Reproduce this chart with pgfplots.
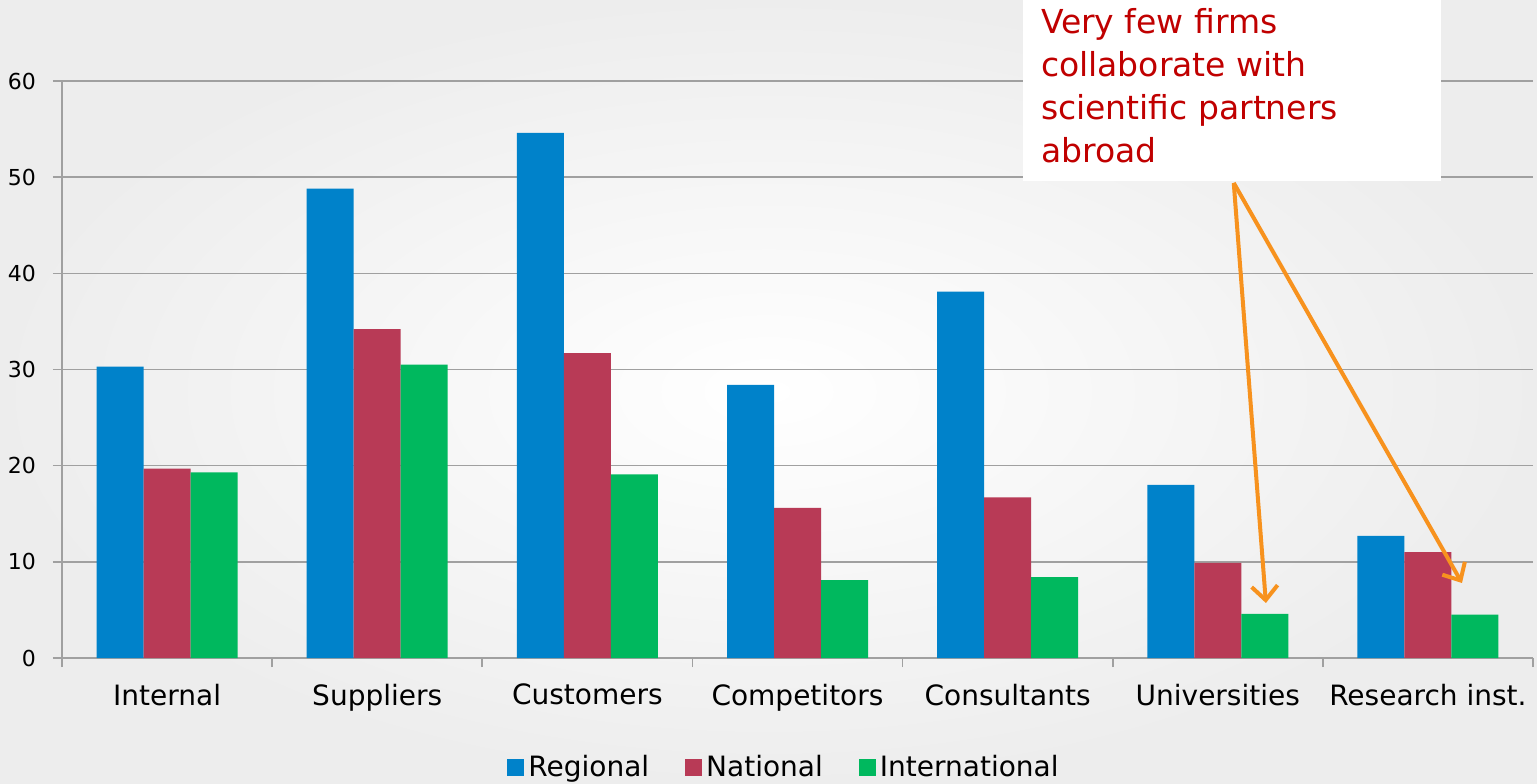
\documentclass[border=0pt]{standalone}
\usepackage{pgfplots}
\pgfplotsset{compat=1.18}
\usepackage{fontspec}
\setmainfont{DejaVu Sans}
\usetikzlibrary{arrows.meta}
\definecolor{cReg}{HTML}{0082CA}
\definecolor{cNat}{HTML}{B83A56}
\definecolor{cInt}{HTML}{00B85E}
\definecolor{cArr}{HTML}{F7921E}
\definecolor{cTxt}{HTML}{C00000}
\definecolor{cGrid}{HTML}{A0A0A0}
\begin{document}
\begin{tikzpicture}
\path[use as bounding box] (0,0) rectangle (768.5pt,391.5pt);
\shade[inner color=white, outer color=black!7] (0,0) rectangle (768.5pt,391.5pt);
\begin{axis}[
  at={(31pt,62.5pt)}, anchor=south west,
  scale only axis, width=735.5pt, height=288.5pt,
  xmin=-0.5, xmax=6.5, ymin=0, ymax=60,
  clip=false,
  axis lines*=left,
  axis line style={cGrid, line width=0.8pt},
  ybar, bar width=23.5pt,
  xtick={0,...,6},
  xticklabels={Internal,Suppliers,Customers,Competitors,Consultants,Universities,Research inst.},
  major x tick style={draw=none},
  minor xtick={-0.5,0.5,...,6.5},
  minor x tick style={cGrid, line width=0.8pt},
  minor tick length=4.5pt,
  xtick align=outside,
  ytick={0,10,...,60},
  ytick align=outside,
  major y tick style={cGrid, line width=0.8pt},
  major tick length=4.5pt,
  ymajorgrids, grid style={cGrid, line width=0.7pt},
  /pgf/number format/assume math mode=true,
  yticklabel style={font=\fontsize{11pt}{13pt}\selectfont, xshift=-5pt},
  xticklabel style={font=\fontsize{14pt}{16pt}\selectfont, yshift=-5pt},
  legend columns=3,
  legend style={at={(0.4915,-0.19)}, anchor=center, draw=none, fill=none,
    font=\fontsize{14pt}{16pt}\selectfont,
    /tikz/every even column/.append style={column sep=16pt}},
  legend image code/.code={\fill[#1] (0pt,-4pt) rectangle (8.5pt,4.5pt);},
]
\addplot[fill=cReg, draw=none, bar shift=-23.5pt] coordinates {(0,30.3) (1,48.8) (2,54.6) (3,28.4) (4,38.1) (5,18.0) (6,12.7)};
\addplot[fill=cNat, draw=none, bar shift=0pt] coordinates {(0,19.7) (1,34.2) (2,31.7) (3,15.6) (4,16.7) (5,9.9) (6,11.0)};
\addplot[fill=cInt, draw=none, bar shift=23.5pt] coordinates {(0,19.3) (1,30.5) (2,19.1) (3,8.1) (4,8.4) (5,4.6) (6,4.5)};
\legend{Regional,National,International}
\fill[white] (axis cs:4.071,68.42) rectangle (axis cs:6.062,49.6);
\node[anchor=north west, inner sep=0pt, align=left, text=cTxt,
  font=\fontsize{16.5pt}{21.5pt}\selectfont] at (axis cs:4.157,67.6)
  {Very few firms\\collaborate with\\scientific partners\\abroad};
\draw[cArr, line width=2pt, -{Straight Barb[length=7pt,width=13pt,line width=2pt]}] (axis cs:5.076,49.4) -- (axis cs:5.229,5.72);
\draw[cArr, line width=2pt, -{Straight Barb[length=7pt,width=13pt,line width=2pt]}] (axis cs:5.076,49.4) -- (axis cs:6.162,7.8);
\end{axis}
\end{tikzpicture}
\end{document}
